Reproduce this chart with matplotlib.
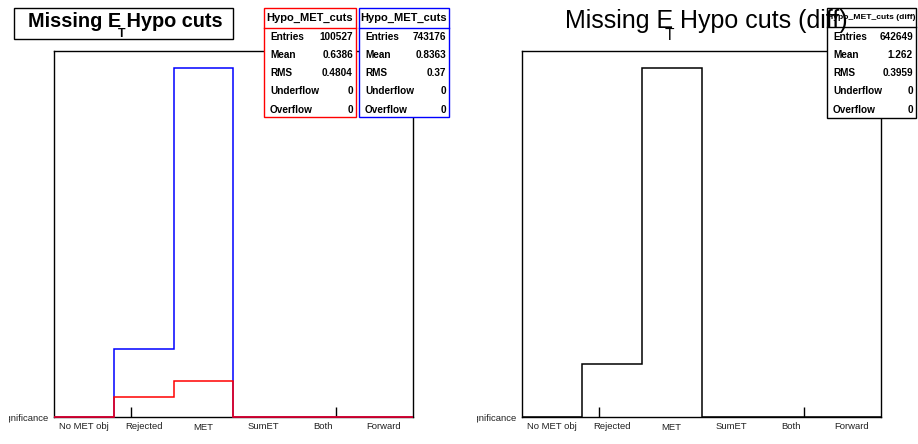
import matplotlib
matplotlib.use("Agg")
import matplotlib.pyplot as plt
from matplotlib.transforms import Affine2D, Bbox
from matplotlib.patches import Rectangle
import numpy as np

W, H = 918, 444
plt.rcParams['font.family'] = ['Liberation Sans', 'DejaVu Sans']

# data
categories = ["No MET obj", "Rejected", "MET", "SumET", "Both", "Forward"]
met_all = [0, 121668, 621508, 0, 0, 0]     # blue
met_sel = [0, 36331, 64196, 0, 0, 0]       # red
met_diff = [0, 85337, 557312, 0, 0, 0]     # black (diff)
x_ticks = [0.78, 4.21]

stat_names = ["Entries", "Mean", "RMS", "Underflow", "Overflow"]
stats_sel = ["100527", "0.6386", "0.4804", "0", "0"]
stats_all = ["743176", "0.8363", "0.37", "0", "0"]
stats_diff = ["642649", "1.262", "0.3959", "0", "0"]

fig = plt.figure(figsize=(W / 100, H / 100), dpi=100)
pix = Affine2D().scale(1, -1).translate(0, H)   # top-left pixel coords
renderer = fig.canvas.get_renderer()
edges = np.arange(-0.5, 6.0, 1.0)


def pad(x0, hists):
    ax = fig.add_axes([(x0 + 54) / W, 27 / H, 359 / W, 366 / H])
    ax.set_xlim(-0.5, 5.5)
    ax.set_ylim(0, 1.05 * max(max(h[0]) for h in hists))
    for vals, col in hists:
        ax.stairs(vals, edges, color=col, lw=1.1, clip_on=False, zorder=3)
    ax.set_yticks([])
    ax.set_xticks(x_ticks)
    ax.tick_params(axis='x', direction='in', length=7, width=1.0,
                   labelbottom=False)
    for s in ax.spines.values():
        s.set_linewidth(1.0)
    tr = ax.get_xaxis_transform()
    for i, c in enumerate(categories):
        dy = -0.030 if c == "MET" else -0.025
        ax.text(i, dy, c, transform=tr, ha='center', va='center',
                fontsize=6.8, color='#222222')
    # axis title, cut off by the pad edge as in the original
    t = fig.text(x0 + 49, 418, "Significance", transform=pix, ha='right',
                 va='center', fontsize=6.8, color='#222222')
    t.set_clip_box(Bbox([[x0 + 9, 0], [x0 + 400, H]]))
    t.set_clip_on(True)
    return ax


def title(x, y, size, weight, rest, t_off, drop, z):
    t1 = fig.text(x, y, "Missing E", transform=pix, fontsize=size,
                  weight=weight, va='baseline', zorder=z)
    x1 = t1.get_window_extent(renderer).x1
    fig.text(x1 + t_off, y + drop, "T", transform=pix, ha='right',
             fontsize=size * 0.62, weight=weight, va='baseline', zorder=z)
    fig.text(x1, y, rest, transform=pix, fontsize=size, weight=weight,
             va='baseline', zorder=z)


def statbox(x0, y0, x1, y1, col, head, vals, head_size, line_y):
    fig.add_artist(Rectangle((x0, y1), x1 - x0, y0 - y1, transform=pix,
                             facecolor='white', edgecolor=col, lw=1.0,
                             zorder=10))
    fig.add_artist(plt.Line2D([x0, x1], [line_y, line_y], transform=pix,
                              color=col, lw=1.0, zorder=11))
    fig.text((x0 + x1) / 2, (y0 + line_y) / 2, head, transform=pix,
             ha='center', va='center', fontsize=head_size, weight='bold',
             zorder=12)
    for i, (n, v) in enumerate(zip(stat_names, vals)):
        yy = 36.5 + i * 18.3
        fig.text(x0 + 6, yy, n, transform=pix, ha='left', va='center',
                 fontsize=7.2, weight='bold', zorder=12)
        fig.text(x1 - 3, yy, v, transform=pix, ha='right', va='center',
                 fontsize=7.2, weight='bold', zorder=12)


pad(0, [(met_all, 'blue'), (met_sel, 'red')])
pad(468, [(met_diff, 'black')])

# left title with box
fig.add_artist(Rectangle((14, 39), 219, -31, transform=pix, facecolor='white',
                         edgecolor='black', lw=1.0, zorder=5))
title(28, 27, 14.3, 'bold', " Hypo cuts", 4, 10, 6)

statbox(264, 8, 356, 117, 'red', "Hypo_MET_cuts", stats_sel, 8, 28)
statbox(359, 8, 449, 117, 'blue', "Hypo_MET_cuts", stats_all, 8, 28)
statbox(827, 8, 916, 118, 'black', "Hypo_MET_cuts (diff)", stats_diff, 6.1, 27)

# right title is drawn over the stat box
title(565, 28, 18, 'normal', " Hypo cuts (diff)", 1, 12, 13)

fig.savefig("out.png", dpi=100)
